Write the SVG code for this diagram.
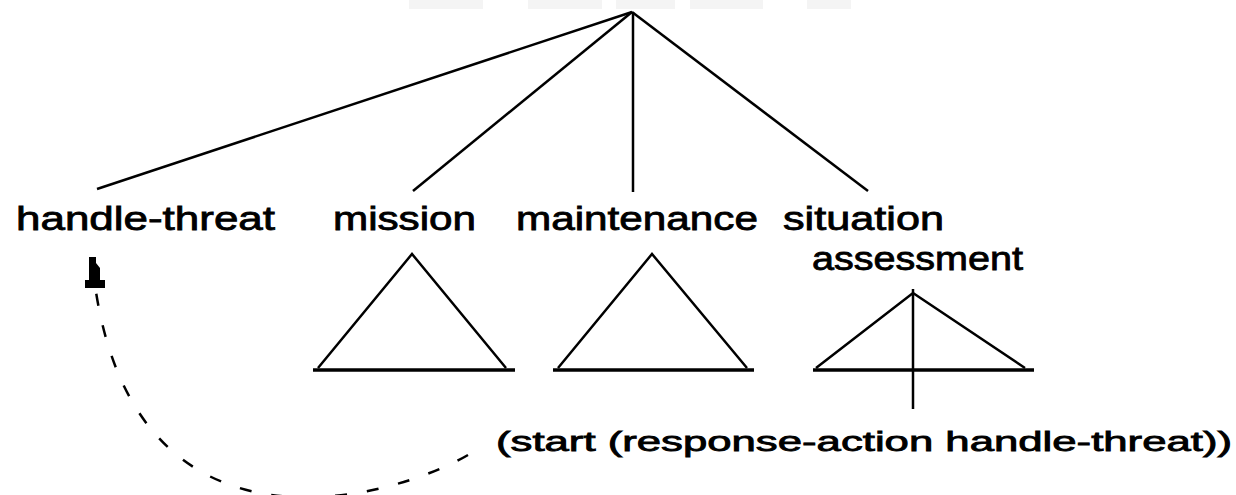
<svg xmlns="http://www.w3.org/2000/svg" width="1236" height="495" viewBox="0 0 1236 495">
<style>
.lbl{font-family:"Liberation Sans",Arial,sans-serif;font-size:33px;fill:#000;stroke:#000;stroke-width:0.8px;}
.sm{font-size:27px;}
.ln{stroke:#000;stroke-width:2.5;fill:none;}
.base{stroke:#000;stroke-width:3.5;fill:none;}
.tri{stroke:#000;stroke-width:2.5;fill:none;stroke-linejoin:miter;}
.dash{stroke:#000;stroke-width:2.5;fill:none;stroke-dasharray:12 20;}
.mask{fill:#f4f4f4;}
</style>
<rect x="0" y="0" width="1236" height="495" fill="#fff"/>
<g id="redacted">
<rect class="mask" x="409" y="0" width="74" height="9"/>
<rect class="mask" x="528" y="0" width="74" height="9"/>
<rect class="mask" x="616" y="0" width="59" height="9"/>
<rect class="mask" x="690" y="0" width="73" height="9"/>
<rect class="mask" x="807" y="0" width="44" height="9"/>
</g>
<g id="connectors">
<line class="ln" x1="632" y1="12" x2="97" y2="189"/>
<line class="ln" x1="632" y1="12" x2="413" y2="191"/>
<line class="ln" x1="633" y1="12" x2="633" y2="192"/>
<line class="ln" x1="632" y1="12" x2="868" y2="191"/>
<line class="ln" x1="913" y1="289" x2="913" y2="409"/>
<path class="dash" d="M 468 455 C 390 500, 140 570, 96 292"/>
<path d="M 89 257 L 96 257 L 96 263 L 100 268 L 100 280 L 105 280 L 105 288 L 85 288 L 85 280 L 89 280 Z" fill="#000"/>
</g>
<g id="handle-threat"><text class="lbl" x="16" y="230" textLength="259" lengthAdjust="spacingAndGlyphs">handle-threat</text></g>
<g id="mission">
<text class="lbl" x="333" y="230" textLength="143" lengthAdjust="spacingAndGlyphs">mission</text>
<polyline class="tri" points="318,368 412,254 506,368"/>
<line class="base" x1="313" y1="370" x2="515" y2="370"/>
</g>
<g id="maintenance">
<text class="lbl" x="516" y="230" textLength="242" lengthAdjust="spacingAndGlyphs">maintenance</text>
<polyline class="tri" points="558,368 652,254 747,368"/>
<line class="base" x1="553" y1="370" x2="754" y2="370"/>
</g>
<g id="situation-assessment">
<text class="lbl" x="783" y="230" textLength="161" lengthAdjust="spacingAndGlyphs">situation</text>
<text class="lbl" x="812" y="270" textLength="211" lengthAdjust="spacingAndGlyphs">assessment</text>
<polyline class="tri" points="816,368 913,293 1025,368"/>
<line class="base" x1="813" y1="370" x2="1034" y2="370"/>
</g>
<g id="start-action"><text class="lbl sm" x="496" y="451" textLength="736" lengthAdjust="spacingAndGlyphs">(start (response-action handle-threat))</text></g>
</svg>
